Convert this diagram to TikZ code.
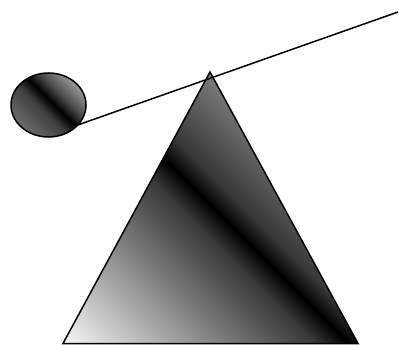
\documentclass[tikz,border=0pt]{standalone}
\usepackage{xcolor}
\usepackage{tikz}

\pgfdeclarehorizontalshading{trishade}{310bp}{color(0bp)=(white); color(185bp)=(black!78); color(208bp)=(black); color(230bp)=(black!78); color(310bp)=(black!48)}
\pgfdeclarehorizontalshading{ballshade}{78bp}{color(0bp)=(black!55); color(32bp)=(black!75); color(44bp)=(black); color(56bp)=(black!70); color(80bp)=(black!30)}

\begin{document}
\begin{tikzpicture}[x=1pt, y=-1pt,
        outline/.style={draw, line width=1.5pt, line join=miter},
        rope/.style={line width=1.5pt}]
    \useasboundingbox (0,0) rectangle (399,345);
    \coordinate (apex) at (210,72);
    \coordinate (left) at (63,343.5);
    \coordinate (right) at (358,343.5);
    \coordinate (ballc) at (48.5,105);
    \coordinate (tail) at (72,127);
    \coordinate (tip) at (398,12);

    % triangle
    \begin{scope}
        \clip (apex) -- (left) -- (right) -- cycle;
        \pgftext[left,bottom,at={\pgfpoint{208.6pt}{-498.5pt}},rotate=45]{\pgfuseshading{trishade}}
    \end{scope}
    \draw[outline] (apex) -- (left) -- (right) -- cycle;

    % rope
    \draw[rope] (tail) -- (tip);

    % ball
    \begin{scope}
        \clip (ballc) ellipse [x radius=37.5, y radius=32];
        \pgftext[left,bottom,at={\pgfpoint{48.1pt}{-161.2pt}},rotate=45]{\pgfuseshading{ballshade}}
    \end{scope}
    \draw[outline] (ballc) ellipse [x radius=37.5, y radius=32];
\end{tikzpicture}
\end{document}
